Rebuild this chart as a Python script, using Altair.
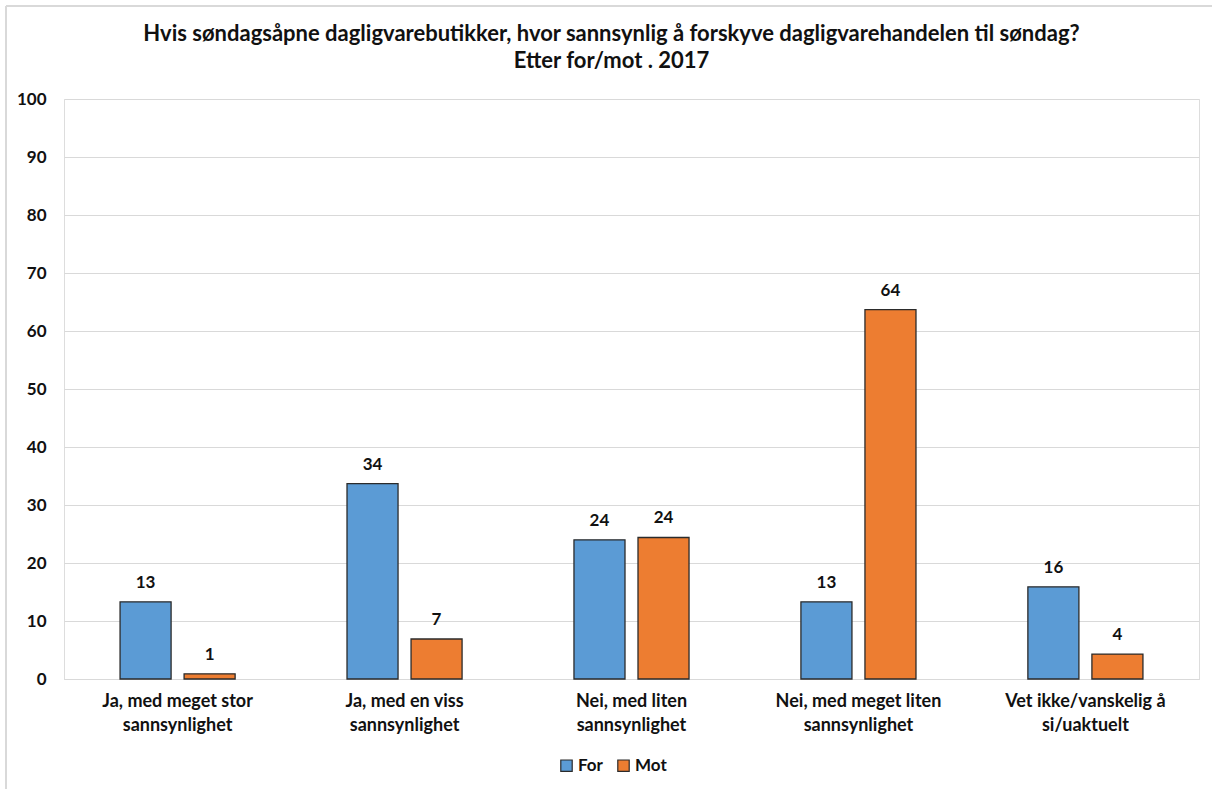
import altair as alt
import pandas as pd

# Answer categories ("|" marks the line break in the axis label)
categories = [
    "Ja, med meget stor|sannsynlighet",
    "Ja, med en viss|sannsynlighet",
    "Nei, med liten|sannsynlighet",
    "Nei, med meget liten|sannsynlighet",
    "Vet ikke/vanskelig å|si/uaktuelt",
]
groups = ["For", "Mot"]
for_values = [13.3, 33.7, 24.0, 13.3, 15.9]
mot_values = [0.9, 6.9, 24.4, 63.7, 4.3]

rows = []
for cat, f, m in zip(categories, for_values, mot_values):
    rows.append({"kategori": cat, "gruppe": "For", "verdi": f})
    rows.append({"kategori": cat, "gruppe": "Mot", "verdi": m})
df = pd.DataFrame(rows)

FONT = "Lato"
TXT = "#111111"
colors = ["#5B9BD5", "#ED7D31"]

x_enc = alt.X(
    "kategori:N",
    sort=categories,
    scale=alt.Scale(paddingInner=0.493, paddingOuter=0.247),
    axis=alt.Axis(
        title=None,
        labelAngle=0,
        labelExpr="split(datum.label, '|')",
        labelFont=FONT,
        labelFontWeight="bold",
        labelFontSize=18,
        labelColor=TXT,
        labelPadding=13,
        labelLineHeight=24,
        labelBaseline="top",
        ticks=False,
        domainColor="#d9d9d9",
        domainWidth=1,
    ),
)
xoff = alt.XOffset("gruppe:N", sort=groups, scale=alt.Scale(paddingInner=0.203))

base = alt.Chart(df)

bars = base.mark_bar(stroke="#2b2b2b", strokeWidth=1.3).encode(
    x=x_enc,
    xOffset=xoff,
    y=alt.Y(
        "verdi:Q",
        scale=alt.Scale(domain=[0, 100], nice=False),
        axis=alt.Axis(
            title=None,
            values=list(range(0, 101, 10)),
            labelFont=FONT,
            labelFontWeight="bold",
            labelFontSize=17,
            labelColor=TXT,
            labelPadding=18,
            ticks=False,
            domain=False,
            gridColor="#d9d9d9",
            gridWidth=1,
        ),
    ),
    color=alt.Color(
        "gruppe:N",
        sort=groups,
        scale=alt.Scale(domain=groups, range=colors),
        legend=alt.Legend(
            title=None,
            orient="none",
            legendX=494,
            legendY=658,
            direction="horizontal",
            symbolType="square",
            symbolSize=130,
            symbolStrokeColor="#2b2b2b",
            symbolStrokeWidth=1.2,
            labelFont=FONT,
            labelFontWeight="bold",
            labelFontSize=17,
            labelColor=TXT,
            columnPadding=12,
            labelOffset=3,
        ),
    ),
)

labels = base.mark_text(
    dy=-19, font=FONT, fontWeight="bold", fontSize=17, color=TXT
).encode(
    x=alt.X("kategori:N", sort=categories),
    xOffset=xoff,
    y="verdi:Q",
    text=alt.Text("verdi:Q", format=".0f"),
)

# thin frame along the top and left edge of the chart
frame_top = alt.Chart(df).mark_rule(color="#d9d9d9", strokeWidth=2).encode(
    x=alt.value(-58), x2=alt.value(1150), y=alt.value(-93)
)
frame_left = alt.Chart(df).mark_rule(color="#d9d9d9", strokeWidth=2).encode(
    x=alt.value(-58), y=alt.value(-93), y2=alt.value(690)
)

chart = (
    alt.layer(bars, labels, frame_top, frame_left)
    .properties(
        width=1135,
        height=580,
        autosize=alt.AutoSizeParams(type="none"),
        padding={"left": 64, "top": 99, "right": 13, "bottom": 110},
        title=alt.TitleParams(
            text=[
                "Hvis søndagsåpne dagligvarebutikker, hvor sannsynlig å forskyve dagligvarehandelen til søndag?",
                "Etter for/mot . 2017",
            ],
            font=FONT,
            fontSize=22,
            fontWeight="bold",
            color=TXT,
            anchor="middle",
            frame="group",
            dx=-20,
            dy=98,
            offset=30,
            lineHeight=27,
        ),
    )
    .configure_view(strokeWidth=0)
    .configure(background="white")
)

chart.save("out.html", embed_options={"renderer": "svg", "actions": False})
